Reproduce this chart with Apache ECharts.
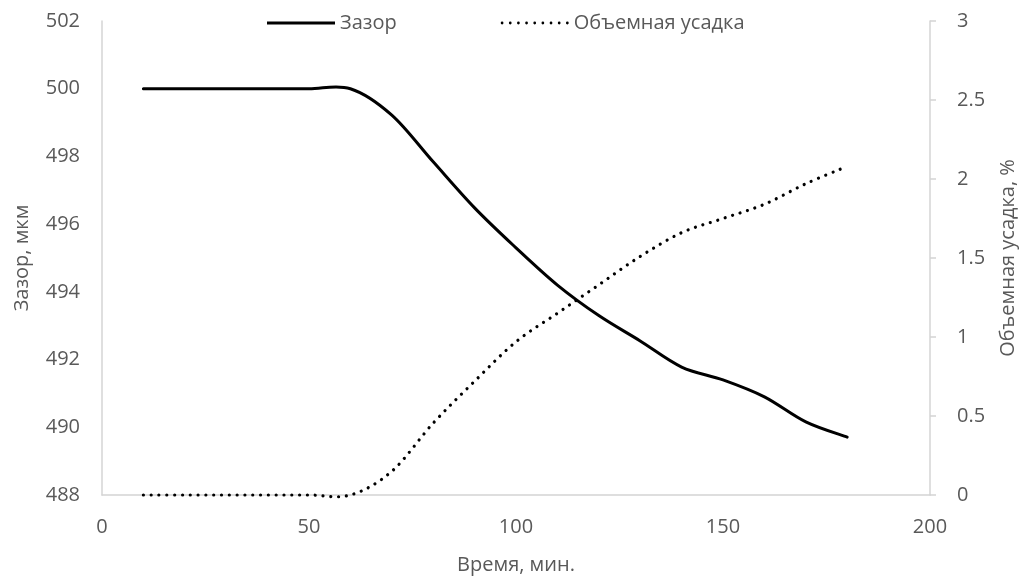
<!DOCTYPE html>
<html>
<head>
<meta charset="utf-8">
<script src="https://cdn.jsdelivr.net/npm/echarts@6/dist/echarts.min.js"></script>
<style>
  html, body { margin: 0; padding: 0; background: #fff; }
  #chart { width: 1024px; height: 580px; }
</style>
</head>
<body>
<div id="chart"></div>
<script>
// Time, minutes
const timeMin = [10, 20, 30, 40, 50, 60, 70, 80, 90, 100, 110, 120, 130, 140, 150, 160, 170, 180];
// Gap, µm (left axis)
const gapUm = [500, 500, 500, 500, 500, 500, 499.22, 497.84, 496.48, 495.3, 494.2, 493.3, 492.55, 491.78, 491.4, 490.9, 490.16, 489.71];
// Volume shrinkage, % (right axis)
const shrinkPct = [0, 0, 0, 0, 0, 0, 0.15, 0.455, 0.72, 0.97, 1.15, 1.33, 1.51, 1.66, 1.75, 1.84, 1.97, 2.08];

const seriesNames = ['Зазор', 'Объемная усадка'];
const axisNames = { x: 'Время, мин.', left: 'Зазор, мкм', right: 'Объемная усадка, %' };

const textColor = '#595959';
const lineGray = '#d4d4d4';
const font = '"Open Sans", "Noto Sans", sans-serif';
const fs = 20;

const pairs = (xs, ys) => xs.map((x, i) => [x, ys[i]]);

// Smooth curve through all points (Catmull-Rom segments as cubic Béziers),
// positioned through the series' own axes via api.coord.
function splineRenderer(xs, ys, lineStyle) {
  return function (params, api) {
    if (params.dataIndex !== 0) return null;
    const pts = xs.map((x, i) => api.coord([x, ys[i]]));
    const n = pts.length;
    let d = 'M' + pts[0][0] + ',' + pts[0][1];
    for (let i = 0; i < n - 1; i++) {
      const p0 = pts[Math.max(i - 1, 0)];
      const p1 = pts[i];
      const p2 = pts[i + 1];
      const p3 = pts[Math.min(i + 2, n - 1)];
      const c1x = p1[0] + (p2[0] - p0[0]) / 6;
      const c1y = p1[1] + (p2[1] - p0[1]) / 6;
      const c2x = p2[0] - (p3[0] - p1[0]) / 6;
      const c2y = p2[1] - (p3[1] - p1[1]) / 6;
      d += ' C' + c1x + ',' + c1y + ' ' + c2x + ',' + c2y + ' ' + p2[0] + ',' + p2[1];
    }
    return {
      type: 'path',
      shape: { pathData: d },
      style: Object.assign({ fill: 'none', stroke: '#000' }, lineStyle)
    };
  };
}

// Legend glyphs: a solid bar and a row of dots
const solidIcon = 'path://M0,0L68,0L68,3L0,3Z';
let dotsIcon = 'path://';
for (let k = 0; k < 9; k++) {
  const cx = k * 8.3, r = 1.4;
  dotsIcon += 'M' + (cx - r) + ',0a' + r + ',' + r + ' 0 1,0 ' + (2 * r) + ',0a' + r + ',' + r + ' 0 1,0 ' + (-2 * r) + ',0';
}

const chart = echarts.init(document.getElementById('chart'));
chart.setOption({
  animation: false,
  textStyle: { fontFamily: font },
  grid: { left: 102, right: 94, top: 21, bottom: 85, containLabel: false, outerBoundsMode: 'none' },
  legend: {
    left: 262,
    top: 8,
    itemWidth: 68,
    itemHeight: 14,
    itemGap: 104,
    textStyle: { color: textColor, fontSize: fs, fontFamily: font },
    data: [
      { name: seriesNames[0], icon: solidIcon },
      { name: seriesNames[1], icon: dotsIcon }
    ]
  },
  xAxis: {
    type: 'value',
    min: 0, max: 200, interval: 50,
    name: axisNames.x,
    nameLocation: 'middle',
    nameGap: 60,
    nameTextStyle: { color: textColor, fontSize: fs, fontFamily: font },
    axisLine: { show: true, lineStyle: { color: lineGray, width: 1.5 } },
    axisTick: { show: false },
    splitLine: { show: false },
    axisLabel: { color: textColor, fontSize: fs, margin: 22, fontFamily: font }
  },
  yAxis: [
    {
      type: 'value',
      position: 'left',
      min: 488, max: 502, interval: 2,
      name: axisNames.left,
      nameLocation: 'middle',
      nameGap: 70,
      nameRotate: 90,
      nameTextStyle: { color: textColor, fontSize: fs, fontFamily: font },
      axisLine: { show: true, lineStyle: { color: lineGray, width: 1.5 } },
      axisTick: { show: false },
      splitLine: { show: false },
      axisLabel: { color: textColor, fontSize: fs, margin: 22, fontFamily: font }
    },
    {
      type: 'value',
      position: 'right',
      min: 0, max: 3, interval: 0.5,
      name: axisNames.right,
      nameLocation: 'middle',
      nameGap: 68,
      nameRotate: 90,
      nameTextStyle: { color: textColor, fontSize: fs, fontFamily: font },
      axisLine: { show: true, lineStyle: { color: lineGray, width: 1.5 } },
      axisTick: { show: true, length: 6, lineStyle: { color: lineGray, width: 1.5 } },
      splitLine: { show: false },
      axisLabel: { color: textColor, fontSize: fs, margin: 27, fontFamily: font }
    }
  ],
  series: [
    {
      name: seriesNames[0],
      type: 'custom',
      yAxisIndex: 0,
      data: pairs(timeMin, gapUm),
      encode: { x: 0, y: 1 },
      itemStyle: { color: '#000' },
      renderItem: splineRenderer(timeMin, gapUm, { lineWidth: 3, lineCap: 'round', lineJoin: 'round' })
    },
    {
      name: seriesNames[1],
      type: 'custom',
      yAxisIndex: 1,
      data: pairs(timeMin, shrinkPct),
      encode: { x: 0, y: 1 },
      itemStyle: { color: '#000' },
      renderItem: splineRenderer(timeMin, shrinkPct, { lineWidth: 3.2, lineCap: 'round', lineDash: [0.01, 7.8] })
    }
  ]
});
</script>
</body>
</html>
